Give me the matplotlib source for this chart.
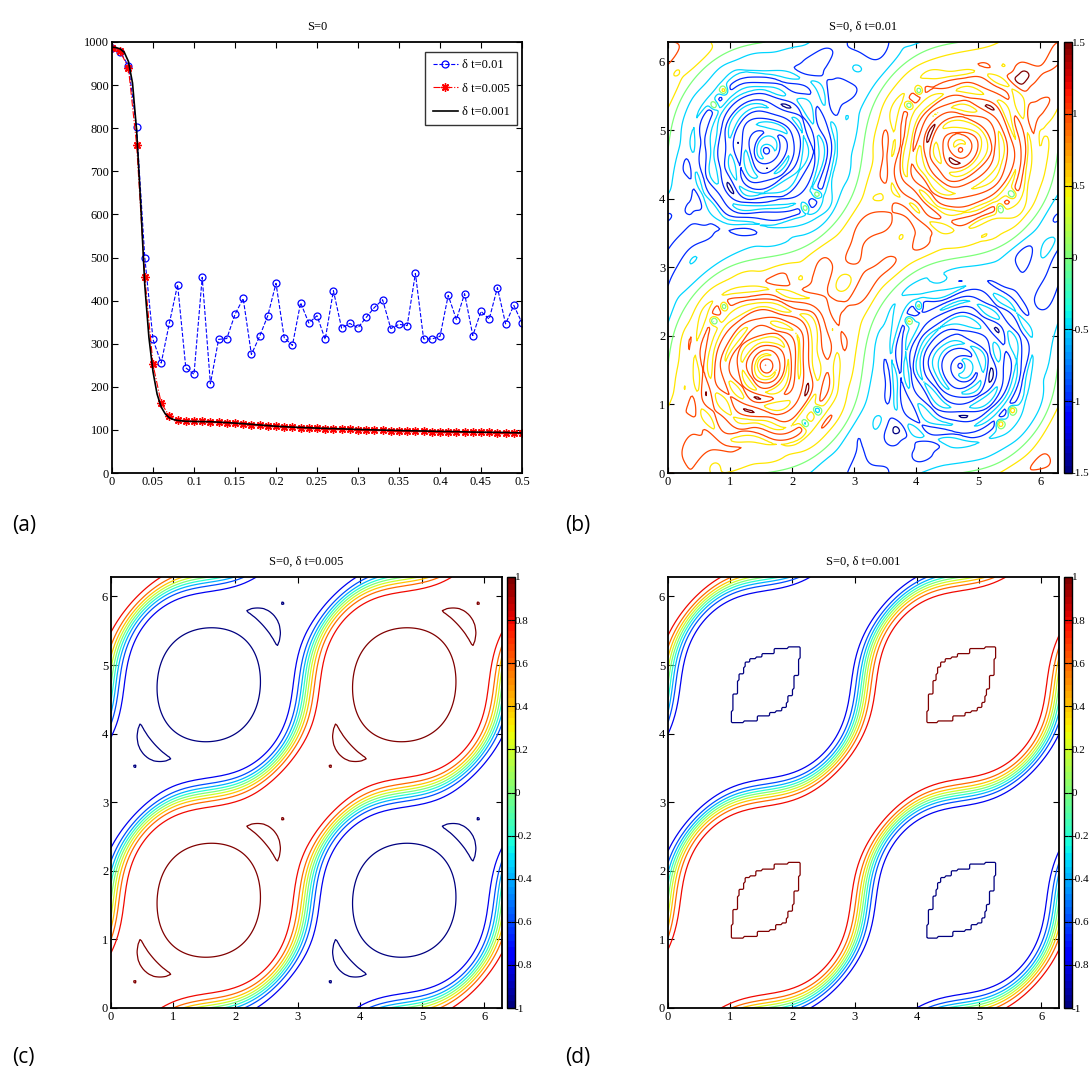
import numpy as np
import matplotlib
matplotlib.use("Agg")
import matplotlib.pyplot as plt
from matplotlib.colors import Normalize
from matplotlib.cm import ScalarMappable

plt.rcParams['axes.unicode_minus'] = False
plt.rcParams['font.family'] = ['Liberation Serif', 'DejaVu Serif']

# ---------------- panel (a): energy vs time ----------------
t_coarse = [0.00, 0.01, 0.02, 0.03, 0.04, 0.05, 0.06, 0.07, 0.08, 0.09,
            0.10, 0.11, 0.12, 0.13, 0.14, 0.15, 0.16, 0.17, 0.18, 0.19,
            0.20, 0.21, 0.22, 0.23, 0.24, 0.25, 0.26, 0.27, 0.28, 0.29,
            0.30, 0.31, 0.32, 0.33, 0.34, 0.35, 0.36, 0.37, 0.38, 0.39,
            0.40, 0.41, 0.42, 0.43, 0.44, 0.45, 0.46, 0.47, 0.48, 0.49, 0.50]
energy_dt_0_01 = [985, 977, 945, 802, 500, 310, 255, 348, 437, 244,
                  229, 454, 207, 310, 312, 368, 405, 275, 317, 365,
                  440, 314, 296, 395, 348, 365, 310, 423, 336, 347,
                  337, 361, 384, 402, 335, 345, 342, 463, 311, 311,
                  317, 412, 356, 416, 319, 375, 357, 430, 346, 389, 348]
energy_dt_0_005 = [985, 978, 940, 762, 455, 252, 162, 132, 123, 121,
                   120, 120, 119, 118, 117, 116, 114, 112, 111, 109,
                   108, 107, 106, 105, 104, 104, 103, 102, 102, 101,
                   100, 100, 99, 99, 98, 98, 97, 97, 97, 96,
                   96, 95, 95, 95, 94, 94, 94, 93, 93, 93, 92]
t_fine = [0.000, 0.005, 0.010, 0.015, 0.020, 0.025, 0.030, 0.035, 0.040, 0.045,
          0.050, 0.055, 0.060, 0.065, 0.070, 0.075, 0.080, 0.085, 0.090, 0.095,
          0.100, 0.12, 0.14, 0.16, 0.18, 0.20, 0.22, 0.24, 0.26, 0.28,
          0.30, 0.32, 0.34, 0.36, 0.38, 0.40, 0.42, 0.44, 0.46, 0.48, 0.50]
energy_dt_0_001 = [988, 987, 984, 976, 955, 905, 795, 625, 435, 315,
                   235, 183, 153, 137, 128, 124, 122, 121, 120, 120,
                   119.5, 119, 117, 114.5, 111.5, 108.5, 106.5, 105, 103.5, 102.5,
                   101, 100, 99, 98, 97.5, 96.5, 96, 95, 94.5, 94, 93]
legend_labels = ['δ t=0.01', 'δ t=0.005', 'δ t=0.001']
xticks_a = [0, 0.05, 0.1, 0.15, 0.2, 0.25, 0.3, 0.35, 0.4, 0.45, 0.5]
xticklabels_a = ['0', '0.05', '0.1', '0.15', '0.2', '0.25', '0.3', '0.35', '0.4', '0.45', '0.5']
yticks_a = [0, 100, 200, 300, 400, 500, 600, 700, 800, 900, 1000]

# ---------------- contour panels: titles / levels ----------------
titles = ['S=0', 'S=0, δ t=0.01', 'S=0, δ t=0.005', 'S=0, δ t=0.001']
levels_b = [-1.5, -1.0, -0.5, 0.0, 0.5, 1.0, 1.5]
levels_cd = [-1.0, -0.8, -0.6, -0.4, -0.2, 0.0, 0.2, 0.4, 0.6, 0.8, 1.0]
cbar_ticks_b = [-1.5, -1, -0.5, 0, 0.5, 1, 1.5]
cbar_labels_b = ['-1.5', '-1', '-0.5', '0', '0.5', '1', '1.5']
cbar_ticks_cd = [-1, -0.8, -0.6, -0.4, -0.2, 0, 0.2, 0.4, 0.6, 0.8, 1]
cbar_labels_cd = ['-1', '-0.8', '-0.6', '-0.4', '-0.2', '0', '0.2', '0.4', '0.6', '0.8', '1']
grid_ticks = [0, 1, 2, 3, 4, 5, 6]

# phase-field model parameters (shape of the interface and vortex cells)
SHEAR = 0.75
EPS = 0.30
EPS_B = 0.48
vortex_x = [np.pi / 2, 3 * np.pi / 2, np.pi / 2, 3 * np.pi / 2]
vortex_y = [np.pi / 2, 3 * np.pi / 2, 3 * np.pi / 2, np.pi / 2]
crescent_angles = [np.pi / 4, 5 * np.pi / 4]
eye_dx = [-0.67, -0.83, 0.83, 0.64]
eye_dy = [0.86, 0.65, -0.65, -0.85]
noise_kx = [7, -5, 9, 3, -8, 6, 10, -4, 5, -9, 8, 2, -6, 11, 12, -7]
noise_ky = [3, 8, -2, 9, 6, -7, 4, 10, 6, 5, -9, -11, -3, 1, -5, 12]
noise_ph = [0.3, 1.7, 4.1, 2.2, 5.5, 0.9, 3.3, 4.8, 1.1, 2.9, 0.5, 3.9, 5.1, 2.5, 0.7, 4.4]
wobble_kx = [4, -3, 5, 6, -5, 2, 8]
wobble_ky = [3, 5, -4, 1, -2, 7, -6]
wobble_ph = [1.2, 0.4, 2.8, 5.0, 3.6, 4.4, 0.2]

N = 257
xg = np.linspace(0, 2 * np.pi, N)
X, Y = np.meshgrid(xg, xg)
U = X + 0.5 * SHEAR * np.sin(2 * X)
W = Y + 0.5 * SHEAR * np.sin(2 * Y)
G = np.cos(U - W)
base = np.tanh(G / EPS) / np.tanh(1 / EPS)
base_b = np.tanh(G / EPS_B) / np.tanh(1 / EPS_B)
S = np.abs(np.sin(X) * np.sin(Y))

# distance to the nearest vortex centre
R_near = np.full_like(X, 10.0)
for cx, cy in zip(vortex_x, vortex_y):
    R_near = np.minimum(R_near, np.hypot(X - cx, Y - cy))
round_S = 0.5 * (S + np.cos(np.minimum(R_near, np.pi / 2)))

# crescents (disk minus vortex disk) and dots around each vortex (panel c)
T = np.zeros_like(X)
D = np.zeros_like(X)
for cx, cy in zip(vortex_x, vortex_y):
    r = np.hypot(X - cx, Y - cy)
    for ang in crescent_angles:
        ang_c = ang - 0.02
        sx, sy = cx + 1.09 * np.cos(ang_c), cy + 1.09 * np.sin(ang_c)
        C = np.minimum(0.37 - np.hypot(X - sx, Y - sy), r - 1.23)
        T += 0.5 * (1 + np.tanh(C / 0.015))
        px, py = cx + 1.68 * np.cos(ang), cy + 1.68 * np.sin(ang)
        D += np.exp(-((X - px) ** 2 + (Y - py) ** 2) / (2 * 0.025 ** 2))
T = np.clip(T, 0, 1)
F_c = 1 + 0.1 * (round_S - 0.65) + 0.08 * D
phi_c = base * (F_c * (1 - T) + 1.03 * T)

# pixelated leaf-shaped plateaus (panel d)
h = 2 * np.pi / 128
Xs = np.round(X / h) * h
Ys = np.round(Y / h) * h
I = np.zeros_like(X)
for cx, cy in zip(vortex_x, vortex_y):
    dx = Xs - cx
    dy = Ys - cy
    p = np.abs(dx - dy)
    q = np.abs(dx + dy)
    inside = (np.maximum(np.abs(dx), np.abs(dy)) <= 0.55) & (p <= 0.62 * (1 - (q / 1.12) ** 1.5))
    I += inside
phi_d = base * (0.985 + 0.03 * I)

# unstable, oscillating solution (panel b)
noise = np.zeros_like(X)
for kx, ky, ph in zip(noise_kx, noise_ky, noise_ph):
    noise += np.sin(kx * X + ky * Y + ph)
noise /= noise.std()
wob = np.zeros_like(X)
for kx, ky, ph in zip(wobble_kx, wobble_ky, wobble_ph):
    wob += np.sin(kx * X + ky * Y + ph)
wob /= wob.std()
rho = np.arccos(np.clip(S, 0, 1)) + 0.03 * wob
env = np.clip((S - 0.2) / 0.25, 0, 1)
env = env * env * (3 - 2 * env)
E = np.zeros_like(X)
for cx, cy in zip(vortex_x, vortex_y):
    for ex, ey in zip(eye_dx, eye_dy):
        E += np.exp(-((X - cx - ex) ** 2 + (Y - cy - ey) ** 2) / (2 * 0.045 ** 2))
mean_b = 0.95 - 0.12 * env
ring = 0.42 * env * np.cos(25.0 * rho)
namp = (0.24 - 0.10 * env) * np.abs(base_b) ** 3
phi_b = base_b * (mean_b + ring - 1.7 * E) + namp * noise

# ---------------- figure ----------------
W_PX, H_PX = 1089, 1073
fig = plt.figure(figsize=(W_PX / 100, H_PX / 100), dpi=100)


def rect(l, t, r, b):
    return [l / W_PX, 1 - b / H_PX, (r - l) / W_PX, (b - t) / H_PX]


def style(ax):
    ax.tick_params(direction='in', top=True, right=True, length=4, width=0.8,
                   labelsize=9, pad=2)
    for s in ax.spines.values():
        s.set_linewidth(1.3)


# (a)
axa = fig.add_axes(rect(112, 42, 522, 473))
axa.plot(t_coarse, energy_dt_0_01, color='blue', ls='--', lw=0.8, marker='o',
         ms=5, mfc='none', mec='blue', mew=0.9, label=legend_labels[0])
axa.plot(t_coarse, energy_dt_0_005, color='red', ls='-.', lw=0.8, marker=(8, 2, 0),
         ms=6, mec='red', mew=1.0, label=legend_labels[1])
axa.plot(t_fine, energy_dt_0_001, color='black', ls='-', lw=1.2, label=legend_labels[2])
axa.set_xlim(0, 0.5)
axa.set_ylim(0, 1000)
axa.set_xticks(xticks_a)
axa.set_xticklabels(xticklabels_a)
axa.set_yticks(yticks_a)
axa.set_title(titles[0], fontsize=9, pad=9)
style(axa)
leg = axa.legend(loc='upper right', bbox_to_anchor=(0.988, 0.977), borderaxespad=0,
                 fancybox=False, edgecolor='black', fontsize=9, handlelength=2.0,
                 labelspacing=0.9, borderpad=0.6, handletextpad=0.3)
leg.get_frame().set_linewidth(1.0)

jet64 = plt.get_cmap('jet', 64)


def contour_panel(ax_rect, cb_rect, field, levels, vmin, vmax, ticks, labels, title):
    ax = fig.add_axes(rect(*ax_rect))
    norm = Normalize(vmin=vmin, vmax=vmax)
    ax.contour(X, Y, field, levels=levels, cmap='jet', norm=norm, linewidths=0.9)
    ax.set_xlim(0, 2 * np.pi)
    ax.set_ylim(0, 2 * np.pi)
    ax.set_xticks(grid_ticks)
    ax.set_yticks(grid_ticks)
    ax.set_title(title, fontsize=9, pad=9)
    style(ax)
    cax = fig.add_axes(rect(*cb_rect))
    sm = ScalarMappable(norm=norm, cmap=jet64)
    cb = fig.colorbar(sm, cax=cax, ticks=ticks)
    cb.ax.set_yticklabels(labels)
    cb.ax.tick_params(direction='in', left=True, right=True, length=3, width=0.8,
                      labelsize=8, pad=0)
    cb.outline.set_linewidth(1.0)
    return ax


contour_panel((668, 42, 1058, 473), (1064, 42, 1072, 473), phi_b, levels_b, -1.5, 1.5,
              cbar_ticks_b, cbar_labels_b, titles[1])
contour_panel((111, 577, 502, 1008), (507, 577, 515, 1008), phi_c, levels_cd, -1, 1,
              cbar_ticks_cd, cbar_labels_cd, titles[2])
contour_panel((668, 577, 1059, 1008), (1064, 577, 1072, 1008), phi_d, levels_cd, -1, 1,
              cbar_ticks_cd, cbar_labels_cd, titles[3])

for lab, xp, yp in [('(a)', 12, 525), ('(b)', 565, 525), ('(c)', 12, 1057), ('(d)', 565, 1057)]:
    fig.text(xp / W_PX, 1 - yp / H_PX, lab, fontsize=15, family=['Open Sans', 'DejaVu Sans'],
             va='center', ha='left')

fig.savefig('out.png', dpi=100)
